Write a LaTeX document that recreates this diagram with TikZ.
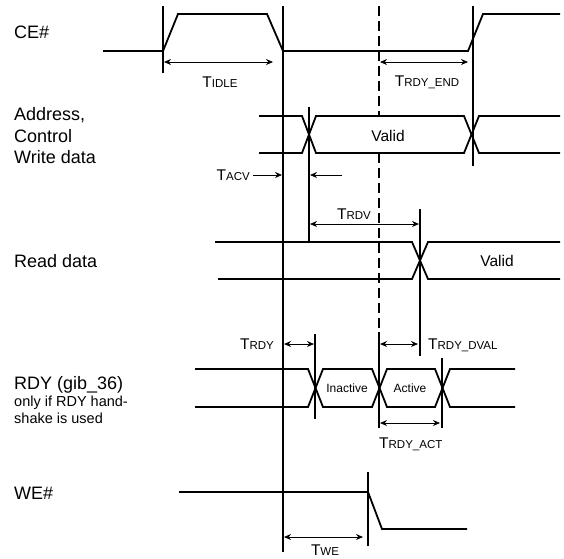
\documentclass[tikz,border=0pt]{standalone}
\usepackage{fontspec}
\setmainfont{Liberation Sans}
\usetikzlibrary{arrows.meta}
\newcommand{\tname}[1]{{\fontsize{15.5}{16}\selectfont T}{\fontsize{11.5}{12}\selectfont #1}}
\tikzset{
  sig/.style={line width=1.8pt, line join=miter},
  mark line/.style={line width=1.1pt},
  dashline/.style={line width=1.1pt, dash pattern=on 10pt off 5pt},
  dim/.style={line width=0.8pt, {Stealth[length=7pt,width=6pt]}-{Stealth[length=7pt,width=6pt]}},
  dimr/.style={line width=0.8pt, -{Stealth[length=7pt,width=6pt]}},
  lab/.style={font=\fontsize{18}{21}\selectfont, anchor=west, inner sep=0pt},
  smalllab/.style={font=\fontsize{14.5}{15}\selectfont, anchor=west, inner sep=0pt},
  val/.style={font=\fontsize{15.5}{16}\selectfont, inner sep=0pt},
  val2/.style={font=\fontsize{12}{13}\selectfont, inner sep=0pt},
  tl/.style={inner sep=0pt}
}
\begin{document}
\begin{tikzpicture}[x=1pt,y=-1pt]
\useasboundingbox (0,0) rectangle (564,558);
% labels
\node[lab] (lce) at (14,32) {CE\#};
\node[lab] (la1) at (14,115) {Address,};
\node[lab] (la2) at (14,136) {Control};
\node[lab] (la3) at (14,157) {Write data};
\node[lab] (lrd) at (14,261) {Read data};
\node[lab] (lrdy) at (14,385) {RDY (gib\_36)};
\node[smalllab] (lrdy2) at (14,403) {only if RDY hand-};
\node[smalllab] (lrdy3) at (14,418) {shake is used};
\node[lab] (lwe) at (14,493) {WE\#};
% CE#
\draw[sig] (103,51) -- (163,51) -- (178,14) -- (267,14) -- (283,51) -- (468,51) -- (483,14) -- (560,14);
% Address
\draw[sig] (259,116) -- (302,116) -- (316,153) -- (464,153) -- (479,116) -- (560,116);
\draw[sig] (259,153) -- (302,153) -- (316,116) -- (464,116) -- (479,153) -- (560,153);
\node[val] (v1) at (388,136) {Valid};
% Read data
\draw[sig] (215,242) -- (412,242) -- (428,279) -- (560,279);
\draw[sig] (218,279) -- (412,279) -- (428,242) -- (560,242);
\node[val] (v2) at (497,261) {Valid};
% RDY
\draw[sig] (195,369) -- (308,369) -- (323,407) -- (372,407) -- (387,369) -- (435,369) -- (450,407) -- (515,407);
\draw[sig] (195,407) -- (308,407) -- (323,369) -- (372,369) -- (387,407) -- (435,407) -- (450,369) -- (515,369);
\node[val2] (ina) at (347,388) {Inactive};
\node[val2] (act) at (410,388) {Active};
% WE#
\draw[sig] (179,492) -- (368,492) -- (382,529) -- (467,529);
% vertical marker lines
\draw[mark line] (163,6) -- (163,73);
\draw[mark line] (283,6) -- (283,552);
\draw[mark line] (473,6) -- (473,166);
\draw[dashline] (379,6) -- (379,116);
\draw[dashline] (379,153) -- (379,332);
\draw[mark line] (379,332) -- (379,428);
\draw[mark line] (309,107) -- (309,241);
\draw[mark line] (420,209) -- (420,356);
\draw[mark line] (315,334) -- (315,419);
\draw[mark line] (442,358) -- (442,428);
\draw[mark line] (368,472) -- (368,546);
% dimensions
\draw[dim] (164,62) -- (273,62);
\node[tl] (tidle) at (220,82) {\tname{IDLE}};
\draw[dim] (380,62) -- (468,62);
\node[tl] (tend) at (427,82) {\tname{RDY\_END}};
\draw[dimr] (253,175) -- (282,175);
\draw[dimr] (342,175) -- (310,175);
\node[tl, anchor=east] (tacv) at (250,175) {\tname{ACV}};
\draw[dim] (310,224) -- (419,224);
\node[tl] (trdv) at (354,214) {\tname{RDV}};
\draw[dim] (284,344) -- (314,344);
\node[tl, anchor=east] (trdy) at (274,344) {\tname{RDY}};
\draw[dim] (380,344) -- (418,344);
\node[tl, anchor=west] (tdval) at (428,345) {\tname{RDY\_DVAL}};
\draw[dim] (380,423) -- (440,423);
\node[tl, anchor=west] (tact) at (379,444) {\tname{RDY\_ACT}};
\draw[dim] (284,537) -- (363,537);
\node[tl] (twe) at (325,550) {\tname{WE}};
\end{tikzpicture}
\end{document}
